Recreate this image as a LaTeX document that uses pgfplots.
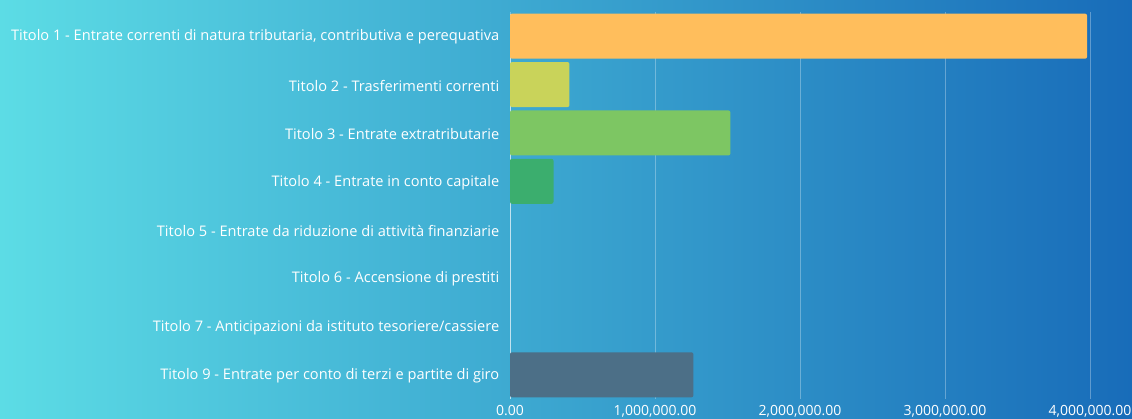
\documentclass[border=0pt]{standalone}
\usepackage{pgfplots}
\pgfplotsset{compat=1.18}
\usepackage{fontspec}
\setmainfont{Open Sans}
\definecolor{bgL}{RGB}{92,220,229}
\definecolor{bgR}{RGB}{24,108,185}
\definecolor{c1}{HTML}{FFBE5C}
\definecolor{c2}{HTML}{C9D35A}
\definecolor{c3}{HTML}{7DC663}
\definecolor{c4}{HTML}{3BAE6E}
\definecolor{c9}{HTML}{4C6F87}
\begin{document}
\begin{tikzpicture}
\shade[left color=bgL,right color=bgR] (0pt,0pt) rectangle (1132pt,419pt);
\useasboundingbox (0pt,0pt) rectangle (1132pt,419pt);
\begin{axis}[
  at={(510pt,20pt)}, anchor=south west,
  scale only axis, width=580pt, height=387pt,
  xmin=0, xmax=4000000, ymin=-0.5, ymax=7.5, y dir=reverse,
  xbar, bar width=45pt, bar shift=0pt,
  axis line style={draw=none},
  tick style={draw=none},
  xtick={0,1000000,2000000,3000000,4000000},
  scaled x ticks=false,
  xticklabel style={text=white, font=\fontsize{14}{16}\selectfont, yshift=-3pt},
  /pgf/number format/.cd, fixed, fixed zerofill, precision=2, 1000 sep={,}, assume math mode=true,
  /pgfplots/.cd,
  ytick={0,...,7},
  yticklabels={{Titolo 1 - Entrate correnti di natura tributaria, contributiva e perequativa},
    {Titolo 2 - Trasferimenti correnti},
    {Titolo 3 - Entrate extratributarie},
    {Titolo 4 - Entrate in conto capitale},
    {Titolo 5 - Entrate da riduzione di attività finanziarie},
    {Titolo 6 - Accensione di prestiti},
    {Titolo 7 - Anticipazioni da istituto tesoriere/cassiere},
    {Titolo 9 - Entrate per conto di terzi e partite di giro}},
  yticklabel style={text=white, font=\fontsize{14.6}{17}\selectfont, xshift=-3pt, yshift=-1pt},
  xmajorgrids, major grid style={white, opacity=0.3, line width=0.8pt},
  clip=false,
]
\draw[white, opacity=0.55, line width=1pt] (axis cs:0,-0.45) -- (axis cs:0,7.5);
\addplot[fill=c1, draw=none, rounded corners=2pt] coordinates {(3980000,0)};
\addplot[fill=c2, draw=none, rounded corners=2pt] coordinates {(410000,1)};
\addplot[fill=c3, draw=none, rounded corners=2pt] coordinates {(1520000,2)};
\addplot[fill=c4, draw=none, rounded corners=2pt] coordinates {(300000,3)};
\addplot[fill=c9, draw=none, rounded corners=2pt] coordinates {(1265000,7)};
\end{axis}
\end{tikzpicture}
\end{document}
